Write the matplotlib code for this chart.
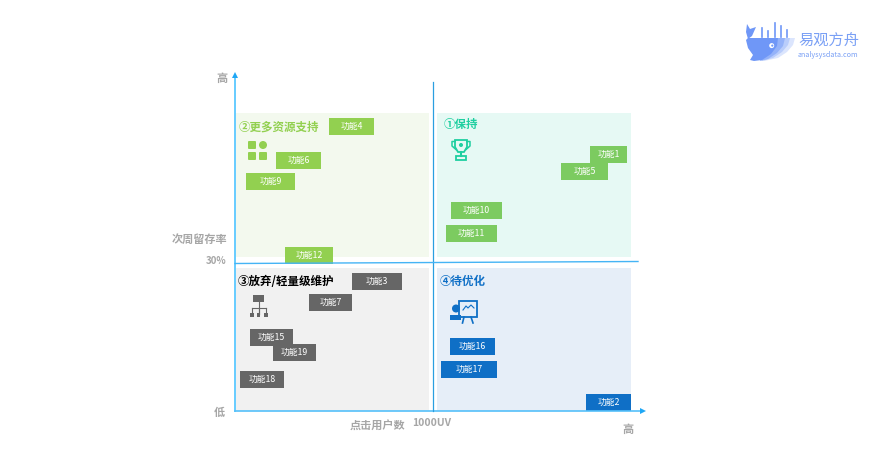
import matplotlib
matplotlib.use('Agg')
import matplotlib.pyplot as plt
from matplotlib.patches import Rectangle, Circle, FancyBboxPatch, Polygon

plt.rcParams['font.family'] = ['Noto Sans CJK SC', 'DejaVu Sans']

# feature boxes: left / top edge, width
green2_names = ['功能4', '功能6', '功能9', '功能12']
green2_left = [329, 276, 246, 285]
green2_top = [118, 152, 173, 247]
green2_width = [45, 45, 49, 48]

green1_names = ['功能1', '功能5', '功能10', '功能11']
green1_left = [590, 561, 451, 446]
green1_top = [146, 163, 202, 225]
green1_width = [37, 47, 51, 51]

gray_names = ['功能3', '功能7', '功能15', '功能19', '功能18']
gray_left = [352, 309, 250, 273, 240]
gray_top = [273, 294, 329, 344, 371]
gray_width = [50, 43, 43, 43, 44]

blue_names = ['功能16', '功能17', '功能2']
blue_left = [450, 441, 586]
blue_top = [338, 361, 394]
blue_width = [45, 56, 45]

W, H = 877, 461
fig = plt.figure(figsize=(W / 100, H / 100), dpi=100)
ax = fig.add_axes([0, 0, 1, 1])
ax.set_xlim(0, W)
ax.set_ylim(H, 0)
ax.axis('off')

# quadrant backgrounds
ax.add_patch(Rectangle((236, 113), 193, 144, fc='#f3f9ee', ec='none'))
ax.add_patch(Rectangle((437, 113), 194, 144, fc='#e6f9f4', ec='none'))
ax.add_patch(Rectangle((236, 268), 193, 143, fc='#f1f1f1', ec='none'))
ax.add_patch(Rectangle((437, 268), 194, 143, fc='#e6eef8', ec='none'))


def boxes(names, left, top, width, color):
    for n, l, t, w in zip(names, left, top, width):
        ax.add_patch(Rectangle((l, t), w, 17, fc=color, ec='none', zorder=2))
        ax.text(l + w / 2, t + 8.5, n, color='white', fontsize=6.3, ha='center', va='center', zorder=3)


boxes(green2_names, green2_left, green2_top, green2_width, '#92d050')
boxes(green1_names, green1_left, green1_top, green1_width, '#7ccb60')
boxes(gray_names, gray_left, gray_top, gray_width, '#666666')
boxes(blue_names, blue_left, blue_top, blue_width, '#0f6fc6')

# axes and centre lines
ax.plot([235, 235], [411, 76], color='#66ccff', lw=1.4, zorder=4)
ax.plot([235, 640], [411, 411], color='#55c0fa', lw=1.2, zorder=4)
ax.add_patch(Polygon([[232, 78], [238, 78], [235, 72]], fc='#1ea7f5', ec='none', zorder=4))
ax.add_patch(Polygon([[640, 408], [640, 414], [646, 411]], fc='#1ea7f5', ec='none', zorder=4))
ax.plot([433, 433], [82, 411], color='#2a9fe0', lw=0.9, zorder=4)
ax.plot([235, 638], [263.5, 261.5], color='#45b4f5', lw=1.0, zorder=4)

# quadrant titles
ax.text(239, 127, '②更多资源支持', color='#92d050', fontsize=8.3, fontweight='bold', va='center')
ax.text(444, 124, '①保持', color='#1ecfa0', fontsize=8.3, fontweight='bold', va='center')
ax.text(238, 281, '③放弃/轻量级维护', color='black', fontsize=8.3, fontweight='bold', va='center')
ax.text(440, 281, '④待优化', color='#0f6fc6', fontsize=8.3, fontweight='bold', va='center')

# axis text
gray = '#a6a6a6'
ax.text(222, 78, '高', color=gray, fontsize=8, fontweight='bold', ha='center', va='center')
ax.text(219, 412, '低', color=gray, fontsize=8, fontweight='bold', ha='center', va='center')
ax.text(199, 239, '次周留存率', color=gray, fontsize=8, fontweight='bold', ha='center', va='center')
ax.text(216, 261, '30%', color=gray, fontsize=7, fontweight='bold', ha='center', va='center')
ax.text(377, 425, '点击用户数', color=gray, fontsize=8, fontweight='bold', ha='center', va='center')
ax.text(432, 423, '1000UV', color=gray, fontsize=7.5, fontweight='bold', ha='center', va='center')
ax.text(628, 429, '高', color=gray, fontsize=8, fontweight='bold', ha='center', va='center')

# icon, resource squares
c = '#92d050'
for x, y in [(249, 142), (249, 153), (260, 153)]:
    ax.add_patch(FancyBboxPatch((x, y), 6, 6, boxstyle='round,pad=1', fc=c, ec='none'))
ax.add_patch(Circle((263, 145), 4, fc=c, ec='none'))

# icon, trophy
c = '#1ecfa0'
ax.add_patch(Polygon([[455, 140], [467, 140], [467, 147], [464, 152], [458, 152], [455, 147]], fc='none', ec=c, lw=1.3))
ax.plot([455, 452, 452, 456], [141.5, 141.5, 146, 149.5], color=c, lw=1.1)
ax.plot([467, 470, 470, 466], [141.5, 141.5, 146, 149.5], color=c, lw=1.1)
ax.plot([461, 461], [152, 156], color=c, lw=1.5)
ax.add_patch(Rectangle((456, 156), 10, 3.5, fc='none', ec=c, lw=1.3))
ax.add_patch(Circle((461, 145), 2, fc=c, ec='none'))

# icon, org tree
c = '#666666'
ax.add_patch(Rectangle((253, 295), 11, 7, fc=c, ec='none'))
ax.plot([258.5, 258.5], [302, 314], color=c, lw=0.8)
ax.plot([252, 266], [308, 308], color=c, lw=0.8)
for x in [252, 258.5, 266]:
    ax.plot([x, x], [308, 314], color=c, lw=0.8)
    ax.add_patch(Rectangle((x - 1.7, 313), 3.4, 4, fc=c, ec='none'))

# icon, presenter with board
c = '#0f6fc6'
ax.add_patch(Rectangle((459, 300.5), 17.5, 16.5, fc='none', ec=c, lw=1.3))
ax.plot([463, 466, 468, 471, 474], [310, 306, 308, 305, 308], color=c, lw=0.8)
ax.plot([464, 462.5], [317, 323], color=c, lw=1.2)
ax.plot([471, 473], [317, 323], color=c, lw=1.2)
ax.add_patch(Circle((456, 308.5), 4, fc=c, ec='none'))
ax.add_patch(Rectangle((449.5, 315), 11.5, 5, fc=c, ec='none'))

# logo
c = '#6f97f7'
ax.add_patch(Polygon([[770, 38], [795, 38], [793, 45], [787, 52], [778, 58], [764, 61]], fc='#dbe5fd', ec='none'))
ax.add_patch(Polygon([[770, 38], [790, 38], [788, 45], [782, 52], [773, 58], [762, 61]], fc='#b9cdfb', ec='none'))
ax.add_patch(Polygon([[770, 38], [785, 38], [783, 46], [777, 53], [768, 59], [760, 61]], fc='#94b2f9', ec='none'))
ax.add_patch(Polygon([[748, 38], [778, 38], [777, 46], [771, 54], [762, 60], [754, 61], [750, 60], [753, 55], [748, 48], [746, 40]], fc=c, ec='none'))
ax.add_patch(Polygon([[747, 24], [750, 29], [756, 27], [752, 36], [748, 39], [746, 32]], fc=c, ec='none'))
for x, t in zip([762, 768, 775, 781, 787], [28, 31, 23, 26, 30]):
    ax.plot([x, x], [t, 37], color=c, lw=1.2)
ax.add_patch(Circle((771.7, 45.6), 2.5, fc='white', ec='none'))
ax.add_patch(Circle((772.3, 45.6), 1.1, fc=c, ec='none'))
ax.text(798, 41, '易观方舟', color='#7aa0f5', fontsize=11, va='center')
ax.text(798, 55, 'analysysdata.com', color='#7aa0f5', fontsize=5.2, va='center')

fig.savefig('out.png', dpi=100)
